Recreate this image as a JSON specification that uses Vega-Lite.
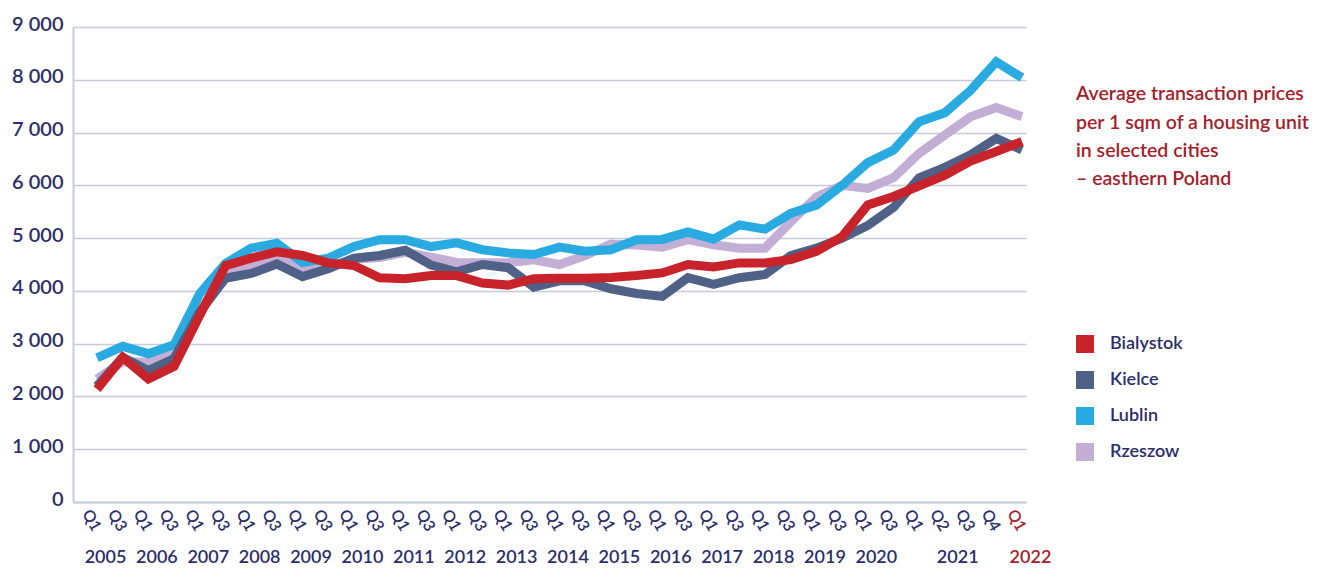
{
  "$schema": "https://vega.github.io/schema/vega-lite/v6.json",
  "width": 953,
  "height": 475,
  "autosize": {"type": "none"},
  "padding": {"left": 73, "top": 27, "right": 295, "bottom": 73},
  "background": "white",
  "config": {
    "view": {"stroke": null},
    "font": "Lato"
  },
  "title": {
    "text": ["Average transaction prices", "per 1 sqm of a housing unit", "in selected cities", "– easthern Poland"],
    "orient": "top",
    "anchor": "start",
    "frame": "group",
    "baseline": "top",
    "offset": 0,
    "dx": 1003,
    "dy": 176,
    "font": "Lato",
    "fontSize": 19.5,
    "fontWeight": 600,
    "color": "#a5212a",
    "lineHeight": 28.4
  },
  "data": {
    "values": [
      {"period": "2005 Q1", "city": "Rzeszow", "price": 2330},
      {"period": "2005 Q3", "city": "Rzeszow", "price": 2660},
      {"period": "2006 Q1", "city": "Rzeszow", "price": 2650},
      {"period": "2006 Q3", "city": "Rzeszow", "price": 2840},
      {"period": "2007 Q1", "city": "Rzeszow", "price": 3620},
      {"period": "2007 Q3", "city": "Rzeszow", "price": 4370},
      {"period": "2008 Q1", "city": "Rzeszow", "price": 4480},
      {"period": "2008 Q3", "city": "Rzeszow", "price": 4660},
      {"period": "2009 Q1", "city": "Rzeszow", "price": 4400},
      {"period": "2009 Q3", "city": "Rzeszow", "price": 4460},
      {"period": "2010 Q1", "city": "Rzeszow", "price": 4600},
      {"period": "2010 Q3", "city": "Rzeszow", "price": 4630},
      {"period": "2011 Q1", "city": "Rzeszow", "price": 4730},
      {"period": "2011 Q3", "city": "Rzeszow", "price": 4640},
      {"period": "2012 Q1", "city": "Rzeszow", "price": 4540},
      {"period": "2012 Q3", "city": "Rzeszow", "price": 4535},
      {"period": "2013 Q1", "city": "Rzeszow", "price": 4535},
      {"period": "2013 Q3", "city": "Rzeszow", "price": 4590},
      {"period": "2014 Q1", "city": "Rzeszow", "price": 4500},
      {"period": "2014 Q3", "city": "Rzeszow", "price": 4670},
      {"period": "2015 Q1", "city": "Rzeszow", "price": 4890},
      {"period": "2015 Q3", "city": "Rzeszow", "price": 4870},
      {"period": "2016 Q1", "city": "Rzeszow", "price": 4830},
      {"period": "2016 Q3", "city": "Rzeszow", "price": 4970},
      {"period": "2017 Q1", "city": "Rzeszow", "price": 4875},
      {"period": "2017 Q3", "city": "Rzeszow", "price": 4810},
      {"period": "2018 Q1", "city": "Rzeszow", "price": 4810},
      {"period": "2018 Q3", "city": "Rzeszow", "price": 5310},
      {"period": "2019 Q1", "city": "Rzeszow", "price": 5780},
      {"period": "2019 Q3", "city": "Rzeszow", "price": 6000},
      {"period": "2020 Q1", "city": "Rzeszow", "price": 5940},
      {"period": "2020 Q3", "city": "Rzeszow", "price": 6145},
      {"period": "2021 Q1", "city": "Rzeszow", "price": 6606},
      {"period": "2021 Q2", "city": "Rzeszow", "price": 6953},
      {"period": "2021 Q3", "city": "Rzeszow", "price": 7300},
      {"period": "2021 Q4", "city": "Rzeszow", "price": 7476},
      {"period": "2022 Q1", "city": "Rzeszow", "price": 7300},

      {"period": "2005 Q1", "city": "Lublin", "price": 2730},
      {"period": "2005 Q3", "city": "Lublin", "price": 2950},
      {"period": "2006 Q1", "city": "Lublin", "price": 2810},
      {"period": "2006 Q3", "city": "Lublin", "price": 2980},
      {"period": "2007 Q1", "city": "Lublin", "price": 3950},
      {"period": "2007 Q3", "city": "Lublin", "price": 4520},
      {"period": "2008 Q1", "city": "Lublin", "price": 4810},
      {"period": "2008 Q3", "city": "Lublin", "price": 4900},
      {"period": "2009 Q1", "city": "Lublin", "price": 4540},
      {"period": "2009 Q3", "city": "Lublin", "price": 4620},
      {"period": "2010 Q1", "city": "Lublin", "price": 4840},
      {"period": "2010 Q3", "city": "Lublin", "price": 4970},
      {"period": "2011 Q1", "city": "Lublin", "price": 4970},
      {"period": "2011 Q3", "city": "Lublin", "price": 4840},
      {"period": "2012 Q1", "city": "Lublin", "price": 4910},
      {"period": "2012 Q3", "city": "Lublin", "price": 4780},
      {"period": "2013 Q1", "city": "Lublin", "price": 4720},
      {"period": "2013 Q3", "city": "Lublin", "price": 4690},
      {"period": "2014 Q1", "city": "Lublin", "price": 4830},
      {"period": "2014 Q3", "city": "Lublin", "price": 4750},
      {"period": "2015 Q1", "city": "Lublin", "price": 4780},
      {"period": "2015 Q3", "city": "Lublin", "price": 4970},
      {"period": "2016 Q1", "city": "Lublin", "price": 4975},
      {"period": "2016 Q3", "city": "Lublin", "price": 5115},
      {"period": "2017 Q1", "city": "Lublin", "price": 4980},
      {"period": "2017 Q3", "city": "Lublin", "price": 5250},
      {"period": "2018 Q1", "city": "Lublin", "price": 5170},
      {"period": "2018 Q3", "city": "Lublin", "price": 5470},
      {"period": "2019 Q1", "city": "Lublin", "price": 5625},
      {"period": "2019 Q3", "city": "Lublin", "price": 6000},
      {"period": "2020 Q1", "city": "Lublin", "price": 6430},
      {"period": "2020 Q3", "city": "Lublin", "price": 6670},
      {"period": "2021 Q1", "city": "Lublin", "price": 7205},
      {"period": "2021 Q2", "city": "Lublin", "price": 7375},
      {"period": "2021 Q3", "city": "Lublin", "price": 7800},
      {"period": "2021 Q4", "city": "Lublin", "price": 8340},
      {"period": "2022 Q1", "city": "Lublin", "price": 8040},

      {"period": "2005 Q1", "city": "Kielce", "price": 2200},
      {"period": "2005 Q3", "city": "Kielce", "price": 2740},
      {"period": "2006 Q1", "city": "Kielce", "price": 2490},
      {"period": "2006 Q3", "city": "Kielce", "price": 2720},
      {"period": "2007 Q1", "city": "Kielce", "price": 3600},
      {"period": "2007 Q3", "city": "Kielce", "price": 4240},
      {"period": "2008 Q1", "city": "Kielce", "price": 4330},
      {"period": "2008 Q3", "city": "Kielce", "price": 4510},
      {"period": "2009 Q1", "city": "Kielce", "price": 4270},
      {"period": "2009 Q3", "city": "Kielce", "price": 4420},
      {"period": "2010 Q1", "city": "Kielce", "price": 4620},
      {"period": "2010 Q3", "city": "Kielce", "price": 4670},
      {"period": "2011 Q1", "city": "Kielce", "price": 4770},
      {"period": "2011 Q3", "city": "Kielce", "price": 4490},
      {"period": "2012 Q1", "city": "Kielce", "price": 4360},
      {"period": "2012 Q3", "city": "Kielce", "price": 4500},
      {"period": "2013 Q1", "city": "Kielce", "price": 4440},
      {"period": "2013 Q3", "city": "Kielce", "price": 4070},
      {"period": "2014 Q1", "city": "Kielce", "price": 4190},
      {"period": "2014 Q3", "city": "Kielce", "price": 4190},
      {"period": "2015 Q1", "city": "Kielce", "price": 4040},
      {"period": "2015 Q3", "city": "Kielce", "price": 3950},
      {"period": "2016 Q1", "city": "Kielce", "price": 3895},
      {"period": "2016 Q3", "city": "Kielce", "price": 4250},
      {"period": "2017 Q1", "city": "Kielce", "price": 4125},
      {"period": "2017 Q3", "city": "Kielce", "price": 4250},
      {"period": "2018 Q1", "city": "Kielce", "price": 4310},
      {"period": "2018 Q3", "city": "Kielce", "price": 4670},
      {"period": "2019 Q1", "city": "Kielce", "price": 4810},
      {"period": "2019 Q3", "city": "Kielce", "price": 5000},
      {"period": "2020 Q1", "city": "Kielce", "price": 5240},
      {"period": "2020 Q3", "city": "Kielce", "price": 5580},
      {"period": "2021 Q1", "city": "Kielce", "price": 6145},
      {"period": "2021 Q2", "city": "Kielce", "price": 6340},
      {"period": "2021 Q3", "city": "Kielce", "price": 6580},
      {"period": "2021 Q4", "city": "Kielce", "price": 6890},
      {"period": "2022 Q1", "city": "Kielce", "price": 6670},

      {"period": "2005 Q1", "city": "Bialystok", "price": 2140},
      {"period": "2005 Q3", "city": "Bialystok", "price": 2740},
      {"period": "2006 Q1", "city": "Bialystok", "price": 2330},
      {"period": "2006 Q3", "city": "Bialystok", "price": 2570},
      {"period": "2007 Q1", "city": "Bialystok", "price": 3540},
      {"period": "2007 Q3", "city": "Bialystok", "price": 4480},
      {"period": "2008 Q1", "city": "Bialystok", "price": 4620},
      {"period": "2008 Q3", "city": "Bialystok", "price": 4740},
      {"period": "2009 Q1", "city": "Bialystok", "price": 4670},
      {"period": "2009 Q3", "city": "Bialystok", "price": 4530},
      {"period": "2010 Q1", "city": "Bialystok", "price": 4480},
      {"period": "2010 Q3", "city": "Bialystok", "price": 4250},
      {"period": "2011 Q1", "city": "Bialystok", "price": 4230},
      {"period": "2011 Q3", "city": "Bialystok", "price": 4290},
      {"period": "2012 Q1", "city": "Bialystok", "price": 4290},
      {"period": "2012 Q3", "city": "Bialystok", "price": 4150},
      {"period": "2013 Q1", "city": "Bialystok", "price": 4110},
      {"period": "2013 Q3", "city": "Bialystok", "price": 4230},
      {"period": "2014 Q1", "city": "Bialystok", "price": 4240},
      {"period": "2014 Q3", "city": "Bialystok", "price": 4240},
      {"period": "2015 Q1", "city": "Bialystok", "price": 4255},
      {"period": "2015 Q3", "city": "Bialystok", "price": 4290},
      {"period": "2016 Q1", "city": "Bialystok", "price": 4340},
      {"period": "2016 Q3", "city": "Bialystok", "price": 4500},
      {"period": "2017 Q1", "city": "Bialystok", "price": 4455},
      {"period": "2017 Q3", "city": "Bialystok", "price": 4530},
      {"period": "2018 Q1", "city": "Bialystok", "price": 4530},
      {"period": "2018 Q3", "city": "Bialystok", "price": 4595},
      {"period": "2019 Q1", "city": "Bialystok", "price": 4750},
      {"period": "2019 Q3", "city": "Bialystok", "price": 5030},
      {"period": "2020 Q1", "city": "Bialystok", "price": 5630},
      {"period": "2020 Q3", "city": "Bialystok", "price": 5790},
      {"period": "2021 Q1", "city": "Bialystok", "price": 5990},
      {"period": "2021 Q2", "city": "Bialystok", "price": 6190},
      {"period": "2021 Q3", "city": "Bialystok", "price": 6460},
      {"period": "2021 Q4", "city": "Bialystok", "price": 6640},
      {"period": "2022 Q1", "city": "Bialystok", "price": 6830}
    ]
  },
  "layer": [
    {
      "mark": {"type": "line", "strokeWidth": 9, "strokeJoin": "miter", "strokeCap": "butt"},
      "encoding": {
        "x": {
          "field": "period",
          "type": "ordinal",
          "sort": null,
          "scale": {"type": "point", "padding": 0.545, "align": 0.857},
          "axis": {
            "title": null,
            "orient": "bottom",
            "labelExpr": "split(datum.value, ' ')[1]",
            "labelAngle": 60,
            "labelAlign": "center",
            "labelBaseline": "middle",
            "labelOffset": -6,
            "labelPadding": 18,
            "ticks": false,
            "tickSize": 0,
            "domain": true,
            "domainColor": "#c5cbdc",
            "domainWidth": 2,
            "grid": false,
            "labelFont": "Lato",
            "labelFontSize": 16,
            "labelFontWeight": 600,
            "labelOverlap": false,
            "labelColor": {"condition": {"test": "datum.value == '2022 Q1'", "value": "#a5212a"}, "value": "#2b2e6a"}
          }
        },
        "y": {
          "field": "price",
          "type": "quantitative",
          "scale": {"domain": [0, 9000], "nice": false},
          "axis": {
            "title": null,
            "values": [0, 1000, 2000, 3000, 4000, 5000, 6000, 7000, 8000, 9000],
            "labelExpr": "replace(format(datum.value, ','), ',', ' ')",
            "grid": true,
            "gridColor": "#c5cbdc",
            "gridWidth": 1.5,
            "domain": true,
            "domainColor": "#c5cbdc",
            "domainWidth": 2,
            "ticks": false,
            "tickSize": 0,
            "labelPadding": 10,
            "labelOffset": -3,
            "labelFont": "Lato",
            "labelFontSize": 20,
            "labelFontWeight": 600,
            "labelColor": "#2b2e6a"
          }
        },
        "color": {
          "field": "city",
          "type": "nominal",
          "scale": {
            "domain": ["Bialystok", "Kielce", "Lublin", "Rzeszow"],
            "range": ["#c8232b", "#4f6186", "#29abe2", "#c3aed6"]
          },
          "legend": {
            "title": null,
            "orient": "none",
            "legendX": 1003,
            "legendY": 308,
            "padding": 0,
            "symbolType": "square",
            "symbolSize": 324,
            "symbolStrokeWidth": 0,
            "rowPadding": 18,
            "labelOffset": 16,
            "labelFont": "Lato",
            "labelFontSize": 18,
            "labelFontWeight": 600,
            "labelColor": "#2b2e6a",
            "encode": {"symbols": {"update": {"fill": {"scale": "color", "field": "value"}, "opacity": {"value": 1}}}}
          }
        }
      }
    },
    {
      "mark": {"type": "point", "opacity": 0},
      "encoding": {
        "x": {
          "field": "period",
          "type": "ordinal",
          "sort": null,
          "axis": {
            "title": null,
            "orient": "bottom",
            "values": ["2005 Q1", "2006 Q1", "2007 Q1", "2008 Q1", "2009 Q1", "2010 Q1", "2011 Q1", "2012 Q1", "2013 Q1", "2014 Q1", "2015 Q1", "2016 Q1", "2017 Q1", "2018 Q1", "2019 Q1", "2020 Q1", "2021 Q1", "2022 Q1"],
            "labelExpr": "substring(datum.value, 0, 4)",
            "labelAngle": 0,
            "labelAlign": "center",
            "labelBaseline": "middle",
            "labelPadding": 55,
            "labelOffset": {"condition": {"test": "datum.value == '2021 Q1'", "value": 38}, "value": 8},
            "ticks": false,
            "tickSize": 0,
            "domain": false,
            "grid": false,
            "labelFont": "Lato",
            "labelFontSize": 18,
            "labelFontWeight": 600,
            "labelOverlap": false,
            "labelColor": {"condition": {"test": "datum.value == '2022 Q1'", "value": "#a5212a"}, "value": "#2b2e6a"}
          }
        }
      }
    }
  ],
  "resolve": {"axis": {"x": "independent"}}
}
